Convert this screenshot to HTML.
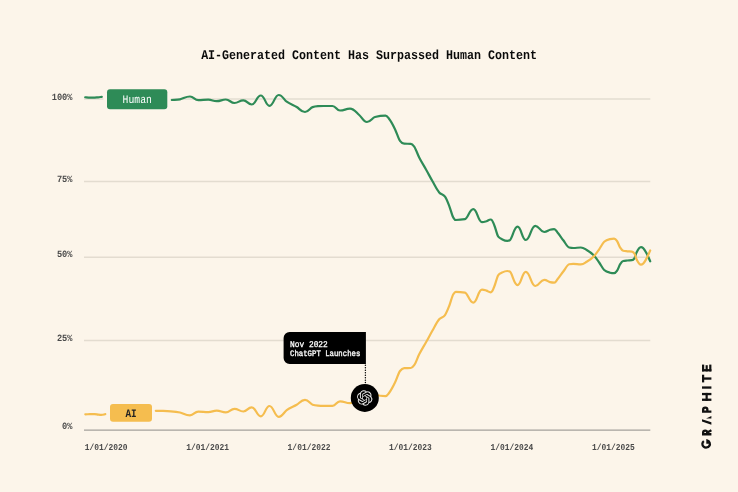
<!DOCTYPE html>
<html><head><meta charset="utf-8"><title>AI-Generated Content Has Surpassed Human Content</title>
<style>html,body{margin:0;padding:0;background:#fcf5ea;}body{width:738px;height:492px;overflow:hidden;font-family:"Liberation Mono",monospace;}svg{display:block;will-change:transform;}text{text-rendering:geometricPrecision;}</style>
</head><body>
<svg width="738" height="492" viewBox="0 0 738 492">
<rect width="738" height="492" fill="#fcf5ea"/>
<line x1="84" y1="99.0" x2="650.3" y2="99.0" stroke="#e3dcd0" stroke-width="1.5"/>
<line x1="84" y1="181.5" x2="650.3" y2="181.5" stroke="#e3dcd0" stroke-width="1.5"/>
<line x1="84" y1="257.3" x2="650.3" y2="257.3" stroke="#e3dcd0" stroke-width="1.5"/>
<line x1="84" y1="340.6" x2="650.3" y2="340.6" stroke="#e3dcd0" stroke-width="1.5"/>
<line x1="84" y1="430.1" x2="650.3" y2="430.1" stroke="#a4a19b" stroke-width="1.45"/>
<rect x="103.4" y="86" width="67.4" height="26" fill="#fcf5ea"/>
<path d="M85.20 97.25C86.30 97.35 87.40 97.48 88.50 97.55C89.90 97.64 90.77 97.70 92.70 97.70C95.14 97.70 96.23 97.48 98.00 97.30C99.27 97.17 100.53 97.00 101.80 96.85" stroke="#2e8b57" fill="none" stroke-width="2.2" stroke-linecap="round" stroke-linejoin="round"/>
<path d="M171.80 100.00C174.53 99.77 177.27 99.77 180.00 99.30C183.33 98.73 185.40 96.50 190.00 96.50C193.82 96.50 194.48 100.20 198.30 100.20C202.90 100.20 203.70 99.70 208.30 99.70C212.16 99.70 212.84 101.20 216.70 101.20C220.89 101.20 221.61 99.50 225.80 99.50C229.80 99.50 230.50 103.00 234.50 103.00C238.55 103.00 239.25 100.30 243.30 100.30C247.16 100.30 247.84 104.50 251.70 104.50C255.89 104.50 256.61 95.50 260.80 95.50C264.80 95.50 265.50 105.80 269.50 105.80C273.73 105.80 274.47 95.00 278.70 95.00C282.38 95.00 284.03 99.83 286.70 101.70C290.03 104.04 293.37 105.10 296.70 107.00C299.47 108.58 301.18 112.00 305.00 112.00C308.50 112.00 310.07 107.94 312.60 107.10C314.40 106.50 316.20 106.34 318.00 106.20C319.77 106.07 320.86 106.00 323.30 106.00C327.53 106.00 328.27 106.00 332.50 106.00C335.95 106.00 336.55 110.50 340.00 110.50C344.60 110.50 345.40 108.70 350.00 108.70C354.23 108.70 356.13 112.55 359.20 115.00C361.80 117.08 363.41 122.00 367.00 122.00C370.68 122.00 372.33 117.66 375.00 117.00C378.50 116.13 380.67 115.70 385.50 115.70C387.20 115.70 387.97 117.48 389.20 119.00C391.13 121.38 393.07 125.22 395.00 129.20C396.67 132.63 398.33 138.50 400.00 140.80C401.40 142.73 402.80 143.66 404.20 143.70C406.40 143.77 408.60 143.73 410.80 143.80C411.93 143.83 413.07 145.13 414.20 146.70C415.87 149.00 417.53 154.18 419.20 157.50C421.57 162.22 423.93 165.75 426.30 170.00C428.37 173.71 430.43 177.68 432.50 181.30C434.73 185.21 436.97 189.90 439.20 192.50C441.13 194.75 443.07 193.90 445.00 196.70C446.40 198.73 447.80 202.28 449.20 205.80C450.57 209.24 451.93 215.17 453.30 217.50C454.13 218.92 454.65 220.00 455.80 220.00C460.03 220.00 461.93 219.73 465.00 219.20C467.77 218.72 469.48 209.20 473.30 209.20C477.30 209.20 478.00 222.20 482.00 222.20C484.07 222.20 485.00 221.67 486.50 221.20C487.93 220.75 488.82 219.50 490.80 219.50C492.36 219.50 493.07 222.53 494.20 225.00C495.57 227.98 496.93 234.85 498.30 236.70C499.53 238.37 500.77 238.56 502.00 239.20C503.77 240.12 504.86 240.80 507.30 240.80C508.45 240.80 508.97 240.60 509.80 240.20C512.37 238.97 513.96 226.70 517.50 226.70C521.32 226.70 521.98 240.00 525.80 240.00C530.17 240.00 530.93 225.80 535.30 225.80C539.39 225.80 540.11 232.00 544.20 232.00C546.87 232.00 548.07 230.16 550.00 229.70C551.40 229.37 552.27 229.20 554.20 229.20C555.72 229.20 556.40 231.26 557.50 232.50C559.43 234.68 561.37 237.82 563.30 240.30C565.27 242.82 567.23 247.02 569.20 247.50C570.57 247.83 571.41 248.00 573.30 248.00C576.75 248.00 577.35 247.50 580.80 247.50C583.51 247.50 584.73 248.86 586.70 250.00C589.20 251.44 591.70 253.02 594.20 255.80C595.87 257.66 597.53 260.13 599.20 262.50C600.87 264.87 602.53 268.45 604.20 270.00C606.13 271.80 608.07 272.23 610.00 272.70C611.37 273.03 612.21 273.20 614.10 273.20C615.48 273.20 616.10 272.17 617.10 270.70C618.13 269.18 619.17 265.72 620.20 264.10C621.20 262.53 622.20 261.24 623.20 261.00C624.57 260.67 625.93 260.63 627.30 260.50C628.83 260.35 630.37 260.40 631.90 260.20C632.73 260.09 633.57 259.57 634.40 258.30C635.07 257.29 635.73 254.41 636.40 252.90C637.93 249.43 638.88 247.10 641.00 247.10C643.58 247.10 644.73 250.08 646.60 253.40C647.80 255.53 649.00 258.67 650.20 261.30" stroke="#2e8b57" fill="none" stroke-width="2.2" stroke-linecap="round" stroke-linejoin="round"/>
<path d="M85.30 414.30C86.87 414.27 88.43 414.23 90.00 414.20C91.50 414.17 92.43 414.10 94.50 414.10C96.11 414.10 96.83 414.46 98.00 414.60C99.07 414.73 99.73 414.90 101.20 414.90C103.09 414.90 103.93 414.40 105.30 414.15" stroke="#f5bd4f" fill="none" stroke-width="2.2" stroke-linecap="round" stroke-linejoin="round"/>
<path d="M155.80 410.80C158.20 410.83 160.60 410.83 163.00 410.90C165.60 410.97 168.20 411.07 170.80 411.30C173.87 411.57 176.93 411.88 180.00 412.50C183.33 413.17 185.40 415.30 190.00 415.30C193.82 415.30 194.48 411.60 198.30 411.60C202.90 411.60 203.70 412.10 208.30 412.10C212.16 412.10 212.84 410.60 216.70 410.60C220.89 410.60 221.61 412.30 225.80 412.30C229.80 412.30 230.50 408.80 234.50 408.80C238.55 408.80 239.25 411.50 243.30 411.50C247.16 411.50 247.84 407.30 251.70 407.30C255.89 407.30 256.61 416.30 260.80 416.30C264.80 416.30 265.50 406.00 269.50 406.00C273.73 406.00 274.47 416.80 278.70 416.80C282.38 416.80 284.03 411.97 286.70 410.10C290.03 407.76 293.37 406.70 296.70 404.80C299.47 403.22 301.18 399.80 305.00 399.80C308.50 399.80 310.07 403.86 312.60 404.70C314.40 405.30 316.20 405.46 318.00 405.60C319.77 405.73 320.86 405.80 323.30 405.80C327.53 405.80 328.27 405.80 332.50 405.80C335.95 405.80 336.55 401.30 340.00 401.30C344.60 401.30 345.40 403.10 350.00 403.10C354.23 403.10 356.13 399.25 359.20 396.80C361.80 394.72 363.41 389.80 367.00 389.80C370.68 389.80 372.33 394.14 375.00 394.80C378.50 395.67 380.67 396.10 385.50 396.10C387.20 396.10 387.97 394.32 389.20 392.80C391.13 390.42 393.07 386.58 395.00 382.60C396.67 379.17 398.33 373.30 400.00 371.00C401.40 369.07 402.80 368.14 404.20 368.10C406.40 368.03 408.60 368.07 410.80 368.00C411.93 367.97 413.07 366.67 414.20 365.10C415.87 362.80 417.53 357.62 419.20 354.30C421.57 349.58 423.93 346.05 426.30 341.80C428.37 338.09 430.43 334.12 432.50 330.50C434.73 326.59 436.97 321.90 439.20 319.30C441.13 317.05 443.07 317.90 445.00 315.10C446.40 313.07 447.80 309.52 449.20 306.00C450.57 302.56 451.93 296.63 453.30 294.30C454.13 292.88 454.65 291.80 455.80 291.80C460.03 291.80 461.93 292.07 465.00 292.60C467.77 293.08 469.48 302.60 473.30 302.60C477.30 302.60 478.00 289.60 482.00 289.60C484.07 289.60 485.00 290.13 486.50 290.60C487.93 291.05 488.82 292.30 490.80 292.30C492.36 292.30 493.07 289.27 494.20 286.80C495.57 283.82 496.93 276.95 498.30 275.10C499.53 273.43 500.77 273.24 502.00 272.60C503.77 271.68 504.86 271.00 507.30 271.00C508.45 271.00 508.97 271.20 509.80 271.60C512.37 272.83 513.96 285.10 517.50 285.10C521.32 285.10 521.98 271.80 525.80 271.80C530.17 271.80 530.93 286.00 535.30 286.00C539.39 286.00 540.11 279.80 544.20 279.80C546.87 279.80 548.07 281.64 550.00 282.10C551.40 282.43 552.27 282.60 554.20 282.60C555.72 282.60 556.40 280.54 557.50 279.30C559.43 277.12 561.37 273.98 563.30 271.50C565.27 268.98 567.23 264.78 569.20 264.30C570.57 263.97 571.41 263.80 573.30 263.80C576.75 263.80 577.35 264.30 580.80 264.30C583.51 264.30 584.73 262.94 586.70 261.80C589.20 260.36 591.70 258.78 594.20 256.00C595.87 254.14 597.53 251.67 599.20 249.30C600.87 246.93 602.53 243.35 604.20 241.80C606.13 240.00 608.07 239.57 610.00 239.10C611.37 238.77 612.21 238.60 614.10 238.60C615.48 238.60 616.10 239.63 617.10 241.10C618.13 242.62 619.17 246.08 620.20 247.70C621.20 249.27 622.20 250.56 623.20 250.80C624.57 251.13 625.93 251.17 627.30 251.30C628.83 251.45 630.37 251.40 631.90 251.60C632.73 251.71 633.57 252.23 634.40 253.50C635.07 254.51 635.73 257.39 636.40 258.90C637.93 262.37 638.88 264.70 641.00 264.70C643.58 264.70 644.73 261.72 646.60 258.40C647.80 256.27 649.00 253.13 650.20 250.50" stroke="#f5bd4f" fill="none" stroke-width="2.2" stroke-linecap="round" stroke-linejoin="round"/>
<rect x="107" y="89.15" width="60.3" height="20.05" rx="3" fill="#2e8b57"/>
<rect x="110" y="404.05" width="42" height="17.8" rx="3" fill="#f5bd4f"/>
<path d="M289.6 332H365.9V363.9H289.6a6 6 0 0 1-6-6V338a6 6 0 0 1 6-6Z" fill="#000"/>
<line x1="365.4" y1="365.3" x2="365.4" y2="383" stroke="#000" stroke-width="1.45" stroke-linecap="round" stroke-dasharray="0.01 2.46"/>
<circle cx="364.8" cy="397.95" r="14.0" fill="#000"/>
<g transform="translate(356.85 390.15) scale(0.6500)"><path d="M22.2819 9.8211a5.9847 5.9847 0 0 0-.5157-4.9108 6.0462 6.0462 0 0 0-6.5098-2.9A6.0651 6.0651 0 0 0 4.9807 4.1818a5.9847 5.9847 0 0 0-3.9977 2.9 6.0462 6.0462 0 0 0 .7427 7.0966 5.98 5.98 0 0 0 .511 4.9107 6.051 6.051 0 0 0 6.5146 2.9001A5.9847 5.9847 0 0 0 13.2599 24a6.0557 6.0557 0 0 0 5.7718-4.2058 5.9894 5.9894 0 0 0 3.9977-2.9001 6.0557 6.0557 0 0 0-.7475-7.0729zm-9.022 12.6081a4.4755 4.4755 0 0 1-2.8764-1.0408l.1419-.0804 4.7783-2.7582a.7948.7948 0 0 0 .3927-.6813v-6.7369l2.02 1.1686a.071.071 0 0 1 .038.052v5.5826a4.504 4.504 0 0 1-4.4945 4.4944zm-9.6607-4.1254a4.4708 4.4708 0 0 1-.5346-3.0137l.142.0852 4.783 2.7582a.7712.7712 0 0 0 .7806 0l5.8428-3.3685v2.3324a.0804.0804 0 0 1-.0332.0615L9.74 19.9502a4.4992 4.4992 0 0 1-6.1408-1.6464zM2.3408 7.8956a4.485 4.485 0 0 1 2.3655-1.9728V11.6a.7664.7664 0 0 0 .3879.6765l5.8144 3.3543-2.0201 1.1685a.0757.0757 0 0 1-.071 0l-4.8303-2.7865A4.504 4.504 0 0 1 2.3408 7.872zm16.5963 3.8558L13.1038 8.364 15.1192 7.2a.0757.0757 0 0 1 .071 0l4.8303 2.7913a4.4944 4.4944 0 0 1-.6765 8.1042v-5.6772a.79.79 0 0 0-.407-.667zm2.0107-3.0231l-.142-.0852-4.7735-2.7818a.7759.7759 0 0 0-.7854 0L9.409 9.2297V6.8974a.0662.0662 0 0 1 .0284-.0615l4.8303-2.7866a4.4992 4.4992 0 0 1 6.6802 4.66zM8.3065 12.863l-2.02-1.1638a.0804.0804 0 0 1-.038-.0567V6.0742a4.4992 4.4992 0 0 1 7.3757-3.4537l-.142.0805L8.704 5.459a.7948.7948 0 0 0-.3927.6813zm1.0976-2.3654l2.602-1.4998 2.6069 1.4998v2.9994l-2.5974 1.4997-2.6067-1.4997Z" fill="#e4e4e4"/></g>
<text transform="translate(369.00 58.90) scale(1 1.132)" text-anchor="middle" font-family="Liberation Mono, monospace" font-size="11.67" font-weight="bold" fill="#0a0a0a">AI-Generated Content Has Surpassed Human Content</text>
<text transform="translate(72.50 99.70) scale(1 1.103)" text-anchor="end" font-family="Liberation Mono, monospace" font-size="8.67" font-weight="bold" fill="#4a4a4a">100%</text>
<text transform="translate(72.50 181.70) scale(1 1.103)" text-anchor="end" font-family="Liberation Mono, monospace" font-size="8.67" font-weight="bold" fill="#4a4a4a">75%</text>
<text transform="translate(72.50 256.65) scale(1 1.103)" text-anchor="end" font-family="Liberation Mono, monospace" font-size="8.67" font-weight="bold" fill="#4a4a4a">50%</text>
<text transform="translate(72.50 341.20) scale(1 1.103)" text-anchor="end" font-family="Liberation Mono, monospace" font-size="8.67" font-weight="bold" fill="#4a4a4a">25%</text>
<text transform="translate(72.50 429.30) scale(1 1.103)" text-anchor="end" font-family="Liberation Mono, monospace" font-size="8.67" font-weight="bold" fill="#4a4a4a">0%</text>
<text transform="translate(84.70 449.70) scale(1 1.129)" text-anchor="start" font-family="Liberation Mono, monospace" font-size="7.93" font-weight="bold" fill="#4a4a4a">1/01/2020</text>
<text transform="translate(186.16 449.70) scale(1 1.129)" text-anchor="start" font-family="Liberation Mono, monospace" font-size="7.93" font-weight="bold" fill="#4a4a4a">1/01/2021</text>
<text transform="translate(287.62 449.70) scale(1 1.129)" text-anchor="start" font-family="Liberation Mono, monospace" font-size="7.93" font-weight="bold" fill="#4a4a4a">1/01/2022</text>
<text transform="translate(389.08 449.70) scale(1 1.129)" text-anchor="start" font-family="Liberation Mono, monospace" font-size="7.93" font-weight="bold" fill="#4a4a4a">1/01/2023</text>
<text transform="translate(490.54 449.70) scale(1 1.129)" text-anchor="start" font-family="Liberation Mono, monospace" font-size="7.93" font-weight="bold" fill="#4a4a4a">1/01/2024</text>
<text transform="translate(592.00 449.70) scale(1 1.129)" text-anchor="start" font-family="Liberation Mono, monospace" font-size="7.93" font-weight="bold" fill="#4a4a4a">1/01/2025</text>
<text transform="translate(137.20 102.90) scale(1 1.183)" text-anchor="middle" font-family="Liberation Mono, monospace" font-size="9.75" fill="#fff">Human</text>
<text transform="translate(131.00 416.70) scale(1 1.203)" text-anchor="middle" font-family="Liberation Mono, monospace" font-size="9.33" font-weight="bold" fill="#222">AI</text>
<text transform="translate(290.00 347.00) scale(1 1.116)" text-anchor="start" font-family="Liberation Mono, monospace" font-size="7.88" stroke="#fff" stroke-width="0.25" fill="#fff">Nov 2022</text>
<text transform="translate(290.00 356.40) scale(1 1.138)" text-anchor="start" font-family="Liberation Mono, monospace" font-size="7.33" stroke="#f4f4f4" stroke-width="0.35" fill="#f4f4f4">ChatGPT Launches</text>
<g transform="translate(711.4 448.6) rotate(-90)" fill="#111"><path d="M7.45 -7.55A3.55 3.75 0 1 0 7.95 -3.95H4.9" fill="none" stroke="#111" stroke-width="2.30"/><path d="M14.35 0V-9.4M14.35 -8.25H16A2 2 0 0 1 16 -4.25H14.35M16.1 -4.1L18.4 0" fill="none" stroke="#111" stroke-width="2.30"/><path d="M23.9 0H26.3L29.4 -9.4H27.1Z"/><path d="M30.2 -5.3L32.5 0H30.1Z"/><path d="M37.0 0V-9.4M37.0 -8.25H38.9A2.1 2.1 0 0 1 38.9 -4.05H37.0" fill="none" stroke="#111" stroke-width="2.30"/><rect x="47.70" y="-9.40" width="2.30" height="9.40"/><rect x="53.40" y="-9.40" width="2.30" height="9.40"/><rect x="47.70" y="-5.85" width="8.00" height="2.20"/><rect x="59.90" y="-9.40" width="2.30" height="9.40"/><rect x="66.20" y="-9.40" width="7.70" height="2.20"/><rect x="68.90" y="-9.40" width="2.30" height="9.40"/><rect x="77.20" y="-9.40" width="2.30" height="9.40"/><rect x="77.20" y="-9.40" width="6.80" height="2.20"/><rect x="77.20" y="-5.80" width="6.20" height="2.15"/><rect x="77.20" y="-2.20" width="6.80" height="2.20"/></g>
</svg>
</body></html>
